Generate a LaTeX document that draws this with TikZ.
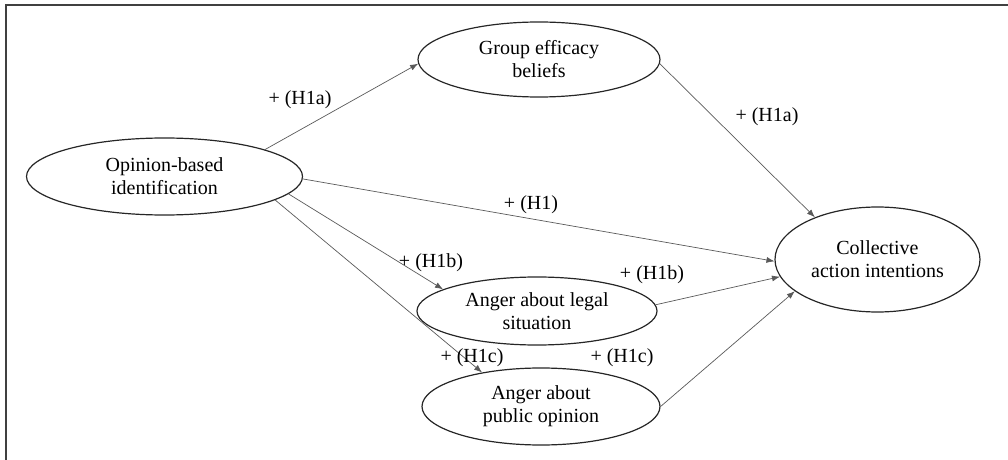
\documentclass[tikz,border=0pt]{standalone}
\usepackage{fontspec}
\setmainfont{Liberation Serif}
\usetikzlibrary{shapes.geometric,arrows.meta}

\begin{document}
\begin{tikzpicture}[
    x=0.5pt, y=-0.5pt,
    >={Latex[length=4pt,width=3pt]},
    construct/.style={draw=black!85, ellipse, line width=0.6pt, inner sep=0pt,
                      align=center, font=\fontsize{10}{11.5}\selectfont},
    path/.style={->, draw=black!65, line width=0.35pt},
    hyp/.style={font=\fontsize{10}{11.5}\selectfont, inner sep=0pt},
  ]
    \useasboundingbox (0,0) rectangle (1008,460);
    % frame, open to the right and bottom
    \draw[black!75, line width=1pt] (6,5) rectangle (1030,480);

    \node[construct, minimum width=138pt, minimum height=38.5pt] (obi) at (164.5,176.5) {Opinion-based\\identification};
    \node[construct, minimum width=121pt, minimum height=37.5pt] (gef) at (539,59.5)   {Group efficacy\\beliefs};
    \node[construct, minimum width=102.5pt, minimum height=52.5pt] (cai) at (877.5,259.5) {Collective\\action intentions};
    \node[construct, minimum width=120pt, minimum height=34pt]   (alg) at (537,311)   {Anger about legal\\situation};
    \node[construct, minimum width=119pt, minimum height=38.5pt] (apo) at (541,406.5) {Anger about\\public opinion};

    \draw[path] (obi.15)  -- (gef.182);
    \draw[path] (gef.-2)  -- (cai.146);
    \draw[path] (obi.-1)  -- (cai.181);
    \draw[path] (obi.-8)  -- (alg.167);
    \draw[path] (obi.-12) -- (apo.150);
    \draw[path] (alg.3)   -- (cai.190);
    \draw[path] (apo.0)   -- (cai.201);

    % hypothesis labels
    \node[hyp] (h1a-in)  at (300,100) {+ (H1a)};
    \node[hyp] (h1a-out) at (767,117) {+ (H1a)};
    \node[hyp] (h1)      at (531,205) {+ (H1)};
    \node[hyp] (h1b-in)  at (431,263) {+ (H1b)};
    \node[hyp] (h1b-out) at (652,275) {+ (H1b)};
    \node[hyp] (h1c-in)  at (472,358) {+ (H1c)};
    \node[hyp] (h1c-out) at (622,358) {+ (H1c)};
\end{tikzpicture}
\end{document}
